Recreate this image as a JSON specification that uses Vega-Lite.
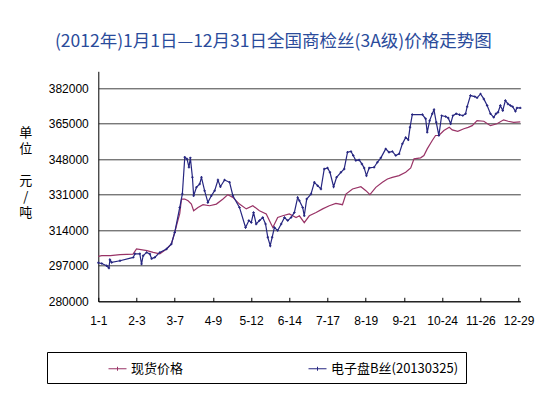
{
  "$schema": "https://vega.github.io/schema/vega-lite/v6.json",
  "width": 422,
  "height": 230,
  "autosize": {"type": "none"},
  "padding": {"left": 98.3, "top": 71.3, "right": 30.7, "bottom": 91.7},
  "background": "white",
  "config": {"view": {"stroke": null}, "font": "Noto Sans CJK SC"},
  "title": {
    "text": "(2012年)1月1日—12月31日全国商检丝(3A级)价格走势图",
    "font": "Noto Sans CJK SC",
    "fontSize": 17.5,
    "fontWeight": "normal",
    "color": "#2A4B9B",
    "anchor": "middle",
    "frame": "group",
    "dx": -36,
    "offset": 12,
    "baseline": "middle"
  },
  "encoding": {
    "x": {
      "field": "t",
      "type": "quantitative",
      "scale": {"domain": [0, 243], "nice": false, "zero": false},
      "axis": {
        "title": null,
        "values": [0, 22, 44, 66, 88, 110, 132, 154, 176, 198, 220, 242],
        "labelExpr": "['1-1','2-3','3-7','4-9','5-12','6-14','7-17','8-19','9-21','10-24','11-26','12-29'][round(datum.value/22)]",
        "grid": false,
        "domainColor": "#000000",
        "tickColor": "#000000",
        "tickSize": -4,
        "labelPadding": 18,
        "labelFont": "Liberation Sans",
        "labelFontSize": 12,
        "labelColor": "#000000",
        "labelFlush": false,
        "labelOverlap": false
      }
    },
    "y": {
      "field": "v",
      "type": "quantitative",
      "scale": {"domain": [280000, 390000], "nice": false, "zero": false},
      "axis": {
        "values": [280000, 297000, 314000, 331000, 348000, 365000, 382000],
        "format": "d",
        "grid": true,
        "gridColor": "#404040",
        "gridWidth": 1,
        "ticks": false,
        "domainColor": "#000000",
        "labelPadding": 10,
        "labelFont": "Liberation Sans",
        "labelFontSize": 12,
        "labelColor": "#000000",
        "title": ["单", "位", "\u200b", "元", "/", "吨"],
        "titleAngle": 0,
        "titleAlign": "center",
        "titleBaseline": "top",
        "titleX": -73,
        "titleY": 55,
        "titleFont": "Noto Sans CJK SC",
        "titleFontSize": 13,
        "titleFontWeight": "normal",
        "titleLineHeight": 16,
        "titleColor": "#000000"
      }
    },
    "color": {
      "type": "nominal",
      "scale": {"domain": ["现货价格", "电子盘B丝(20130325)"], "range": ["#993366", "#262680"]},
      "legend": {
        "orient": "none",
        "legendX": -51.3,
        "legendY": 280.7,
        "direction": "horizontal",
        "columns": 2,
        "columnPadding": 122,
        "padding": 7,
        "strokeColor": "#000000",
        "fillColor": "#ffffff",
        "title": "\u00a0",
        "titleOrient": "left",
        "titleFontSize": 1,
        "titlePadding": 54,
        "symbolType": "M-1,0H1M0,-0.22V0.22",
        "symbolSize": 324,
        "symbolStrokeWidth": 1,
        "labelFont": "Noto Sans CJK SC",
        "labelFontSize": 13,
        "labelColor": "#000000",
        "labelOffset": 4,
        "labelLimit": 400,
        "labelExpr": "datum.label == '电子盘B丝(20130325)' ? datum.label + '\u2003\u2003\u2003\u2003' : datum.label"
      }
    }
  },
  "layer": [
    {
      "data": {"values": [
        {"t": 0, "v": 301500}, {"t": 2, "v": 301800}, {"t": 7, "v": 301800}, {"t": 12.5, "v": 302300},
        {"t": 20, "v": 302600}, {"t": 22, "v": 305000}, {"t": 28, "v": 304200}, {"t": 31.6, "v": 303400},
        {"t": 35.4, "v": 302700}, {"t": 39.3, "v": 305000}, {"t": 42.1, "v": 307400}, {"t": 44, "v": 312900},
        {"t": 45.3, "v": 317100}, {"t": 46.9, "v": 321900}, {"t": 47.9, "v": 328900}, {"t": 49.8, "v": 328900},
        {"t": 51.7, "v": 328100}, {"t": 53.6, "v": 326500}, {"t": 54.9, "v": 323300}, {"t": 57.4, "v": 324900},
        {"t": 60.3, "v": 326200}, {"t": 64.1, "v": 325700}, {"t": 68, "v": 326500}, {"t": 71.8, "v": 328900},
        {"t": 74.6, "v": 331000}, {"t": 77.5, "v": 329700}, {"t": 81.3, "v": 326500}, {"t": 85.2, "v": 324200},
        {"t": 89, "v": 325700}, {"t": 92.8, "v": 323300}, {"t": 96.7, "v": 321800}, {"t": 99.5, "v": 317000},
        {"t": 100.5, "v": 315300}, {"t": 103.3, "v": 320100}, {"t": 106.2, "v": 320900}, {"t": 110, "v": 321800},
        {"t": 113.9, "v": 320100}, {"t": 115.8, "v": 320900}, {"t": 118.6, "v": 317600}, {"t": 121.5, "v": 320900},
        {"t": 125.4, "v": 322500}, {"t": 129.2, "v": 324200}, {"t": 133, "v": 325700}, {"t": 136.8, "v": 326800},
        {"t": 140.6, "v": 326200}, {"t": 142.6, "v": 331300}, {"t": 146.4, "v": 333700}, {"t": 151.2, "v": 334800},
        {"t": 154.1, "v": 332900}, {"t": 156.4, "v": 331000}, {"t": 159.8, "v": 334500}, {"t": 163.6, "v": 336900},
        {"t": 166.5, "v": 338500}, {"t": 169.3, "v": 339300}, {"t": 173.2, "v": 340100}, {"t": 177, "v": 341700},
        {"t": 179.9, "v": 343800}, {"t": 181.8, "v": 348100}, {"t": 185.6, "v": 348600}, {"t": 187.5, "v": 349700},
        {"t": 189.4, "v": 352900}, {"t": 192.3, "v": 356900}, {"t": 194.2, "v": 359300}, {"t": 196.1, "v": 359300},
        {"t": 199, "v": 361700}, {"t": 202.1, "v": 363200}, {"t": 203.8, "v": 362000}, {"t": 207, "v": 361300},
        {"t": 210.5, "v": 362500}, {"t": 213, "v": 363200}, {"t": 215.3, "v": 364000}, {"t": 218.1, "v": 366400},
        {"t": 222, "v": 366100}, {"t": 225.8, "v": 364000}, {"t": 229.6, "v": 364900}, {"t": 233.4, "v": 366800},
        {"t": 236, "v": 366100}, {"t": 239.2, "v": 365600}, {"t": 243, "v": 365800}
      ]},
      "mark": {"type": "line", "strokeWidth": 1.2},
      "encoding": {"color": {"datum": "现货价格"}}
    },
    {
      "data": {"values": [
        {"t": 0, "v": 298400}, {"t": 2, "v": 298100}, {"t": 4.8, "v": 297000}, {"t": 6.1, "v": 295900},
        {"t": 6.7, "v": 299900}, {"t": 7.7, "v": 298600}, {"t": 12.5, "v": 299400}, {"t": 20.1, "v": 301000},
        {"t": 21.1, "v": 302700}, {"t": 23.9, "v": 302700}, {"t": 24.9, "v": 297800}, {"t": 25.8, "v": 301800},
        {"t": 27.8, "v": 303400}, {"t": 29.7, "v": 302600}, {"t": 30.7, "v": 300400}, {"t": 32.5, "v": 301000},
        {"t": 35.4, "v": 303400}, {"t": 39.3, "v": 305000}, {"t": 42.1, "v": 307400}, {"t": 44, "v": 312900},
        {"t": 46.9, "v": 324900}, {"t": 48.4, "v": 331300}, {"t": 49.8, "v": 348900}, {"t": 51.1, "v": 348100},
        {"t": 52.2, "v": 344100}, {"t": 53, "v": 348600}, {"t": 54.2, "v": 339300}, {"t": 54.9, "v": 330500},
        {"t": 56.5, "v": 334500}, {"t": 58.4, "v": 336100}, {"t": 59.4, "v": 339300}, {"t": 61.2, "v": 332900},
        {"t": 63.1, "v": 327300}, {"t": 65.1, "v": 330500}, {"t": 67, "v": 332900}, {"t": 68.9, "v": 338000},
        {"t": 70.3, "v": 334800}, {"t": 72.7, "v": 338000}, {"t": 75.6, "v": 336900}, {"t": 77.5, "v": 330500},
        {"t": 81.3, "v": 324900}, {"t": 84.8, "v": 315300}, {"t": 86.7, "v": 318600}, {"t": 88.1, "v": 317700},
        {"t": 89.4, "v": 322500}, {"t": 90.9, "v": 317000}, {"t": 92.8, "v": 318600}, {"t": 94.7, "v": 320100},
        {"t": 96.3, "v": 317000}, {"t": 97.6, "v": 310600}, {"t": 99, "v": 306600}, {"t": 100.1, "v": 310600},
        {"t": 101.4, "v": 315300}, {"t": 103.3, "v": 313800}, {"t": 105.3, "v": 317000}, {"t": 107.2, "v": 320100},
        {"t": 109.1, "v": 318600}, {"t": 111, "v": 320100}, {"t": 112.9, "v": 322500}, {"t": 114.8, "v": 329700},
        {"t": 115.8, "v": 328100}, {"t": 117.7, "v": 324900}, {"t": 118.6, "v": 320900}, {"t": 120, "v": 328900},
        {"t": 122.5, "v": 331300}, {"t": 124.4, "v": 336900}, {"t": 126.3, "v": 335300}, {"t": 128.2, "v": 333700},
        {"t": 130.1, "v": 343300}, {"t": 132, "v": 343800}, {"t": 133.4, "v": 341700}, {"t": 135.5, "v": 334800},
        {"t": 137.2, "v": 339300}, {"t": 139.7, "v": 341700}, {"t": 141.6, "v": 343300}, {"t": 143.5, "v": 351300},
        {"t": 145.5, "v": 351700}, {"t": 146.8, "v": 349700}, {"t": 148.3, "v": 347300}, {"t": 150.2, "v": 347600},
        {"t": 151.8, "v": 345700}, {"t": 153.1, "v": 343800}, {"t": 154.4, "v": 340100}, {"t": 156, "v": 343800},
        {"t": 158.8, "v": 344100}, {"t": 160.7, "v": 346500}, {"t": 162.7, "v": 348600}, {"t": 165.5, "v": 352900},
        {"t": 167.4, "v": 351300}, {"t": 169.3, "v": 351700}, {"t": 171.3, "v": 349700}, {"t": 173.2, "v": 350500},
        {"t": 175.1, "v": 355300}, {"t": 177, "v": 358400}, {"t": 178.5, "v": 357200}, {"t": 179.5, "v": 363200},
        {"t": 180.8, "v": 369300}, {"t": 186.6, "v": 369300}, {"t": 188.5, "v": 367300}, {"t": 189.4, "v": 360800},
        {"t": 190.8, "v": 366400}, {"t": 192.3, "v": 369700}, {"t": 193.3, "v": 371600}, {"t": 194.6, "v": 365600},
        {"t": 196.1, "v": 359300}, {"t": 197.7, "v": 368800}, {"t": 200, "v": 368400}, {"t": 201.5, "v": 367700},
        {"t": 202.9, "v": 364900}, {"t": 204.2, "v": 368800}, {"t": 206.1, "v": 369700}, {"t": 208, "v": 369200},
        {"t": 209.9, "v": 368800}, {"t": 211.5, "v": 369700}, {"t": 212.4, "v": 373100}, {"t": 214.3, "v": 378400},
        {"t": 216.8, "v": 377900}, {"t": 218.1, "v": 377300}, {"t": 220.1, "v": 379200}, {"t": 222, "v": 376800},
        {"t": 223.9, "v": 373600}, {"t": 225.8, "v": 369700}, {"t": 227.7, "v": 368000}, {"t": 229, "v": 369700},
        {"t": 230.2, "v": 370400}, {"t": 231.5, "v": 373600}, {"t": 232.9, "v": 371200}, {"t": 234.4, "v": 376000},
        {"t": 235.9, "v": 374400}, {"t": 237.3, "v": 373600}, {"t": 238.6, "v": 373100}, {"t": 240.2, "v": 370900},
        {"t": 241.1, "v": 372500}, {"t": 243, "v": 372500}
      ]},
      "mark": {"type": "line", "strokeWidth": 1.2, "point": {"shape": "cross", "size": 6, "filled": true, "color": "#1a1a55"}},
      "encoding": {"color": {"datum": "电子盘B丝(20130325)"}}
    }
  ]
}
